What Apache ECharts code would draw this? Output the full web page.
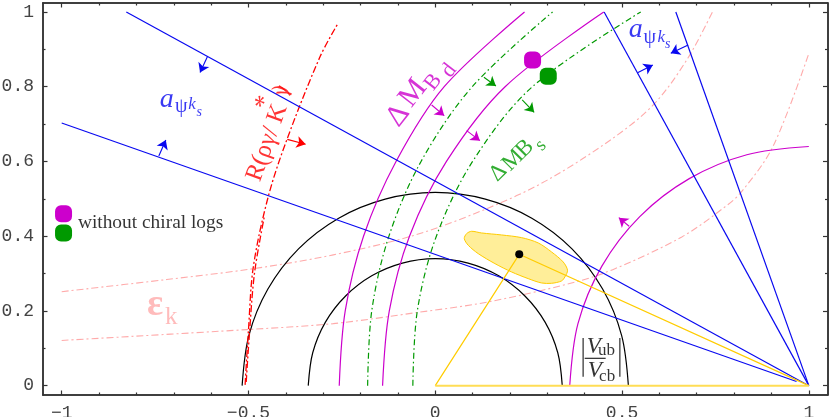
<!DOCTYPE html>
<html>
<head>
<meta charset="utf-8">
<title>Unitarity triangle</title>
<script src="https://cdn.jsdelivr.net/npm/echarts@6/dist/echarts.min.js"></script>
<style>html,body{margin:0;padding:0;background:#fff}#main{width:830px;height:417px}</style>
</head>
<body>
<div id="main"></div>
<script>
// tick positions
var xMajorTicks = [-1, -0.5, 0, 0.5, 1];
var xMinorTicks = [-0.9, -0.8, -0.7, -0.6, -0.4, -0.3, -0.2, -0.1, 0.1, 0.2, 0.3, 0.4, 0.6, 0.7, 0.8, 0.9];
var yMajorTicks = [0, 0.2, 0.4, 0.6, 0.8, 1];
var yMinorTicks = [0.1, 0.3, 0.5, 0.7, 0.9];

// curves
var blueUpperLeft = [[-0.827, 1], [1, 0]];
var blueLowerLeft = [[-1, 0.703], [0.967, 0.011]];
var blueInnerRight = [[0.452, 1], [1, 0]];
var blueOuterRight = [[0.644, 1], [1, 0]];
var magentaOuter = [[-0.257, 0], [-0.241, 0.2], [-0.192, 0.4], [-0.105, 0.6], [0.024, 0.8], [0.239, 1]];
var magentaInner = [[-0.141, 0], [-0.123, 0.2], [-0.069, 0.4], [0.03, 0.6], [0.187, 0.8], [0.451, 1]];
var magentaRight = [[0.36, 0], [0.382, 0.166], [0.446, 0.32], [0.5475, 0.4525], [0.68, 0.554], [0.834, 0.618], [1, 0.64]];
var greenOuter = [[-0.181, 0], [-0.17, 0.2], [-0.124, 0.4], [-0.038, 0.6], [0.099, 0.8], [0.314, 1]];
var greenInner = [[-0.06, 0], [-0.048, 0.2], [0.003, 0.4], [0.1, 0.6], [0.26, 0.8], [0.55, 1]];
var redMain = [[-0.509, 0.002], [-0.5, 0.149], [-0.487, 0.318], [-0.447, 0.506], [-0.3975, 0.6575], [-0.3085, 0.88], [-0.26, 0.97]];
var redShort = [[-0.506, 0.01], [-0.498, 0.13], [-0.484, 0.3], [-0.458, 0.45]];
var pinkUpper = [[-1, 0.2515], [-0.719, 0.284], [-0.487, 0.313], [-0.273, 0.35], [-0.054, 0.403], [0.141, 0.475], [0.3, 0.55], [0.481, 0.666], [0.588, 0.756], [0.676, 0.876], [0.742, 1]];
var pinkLower = [[-1, 0.121], [-0.505, 0.15], [-0.273, 0.166], [-0.054, 0.195], [0.141, 0.224], [0.374, 0.277], [0.481, 0.313], [0.66, 0.398], [0.775, 0.478], [0.82, 0.519], [0.904, 0.64], [1, 0.889]];
var circleOuter = [[0.517, 0], [0.499, 0.134], [0.448, 0.2585], [0.366, 0.366], [0.2585, 0.448], [0.134, 0.499], [0, 0.517], [-0.134, 0.499], [-0.2585, 0.448], [-0.366, 0.366], [-0.448, 0.2585], [-0.499, 0.134], [-0.517, 0]];
var circleInner = [[0.34, 0], [0.328, 0.088], [0.294, 0.17], [0.24, 0.24], [0.17, 0.294], [0.088, 0.328], [0, 0.34], [-0.088, 0.328], [-0.17, 0.294], [-0.24, 0.24], [-0.294, 0.17], [-0.328, 0.088], [-0.34, 0]];
var triangleLegs = [[0, 0], [0.2248, 0.3515], [1, 0]];
var triangleBase = [[0, 0], [1, 0]];
var fitRegion = [[0.0777, 0.3935], [0.0839, 0.4068], [0.0973, 0.4131], [0.124, 0.4086], [0.1775, 0.4033], [0.2311, 0.3961], [0.2757, 0.3819], [0.3113, 0.3578], [0.3425, 0.331], [0.3541, 0.3087], [0.347, 0.2909], [0.3381, 0.2802], [0.3113, 0.2739], [0.2845, 0.2748], [0.2489, 0.2864], [0.2043, 0.3043], [0.1597, 0.3266], [0.1151, 0.3533], [0.0884, 0.3756]];
var fitPoint = [[0.2248, 0.3515]];
var magentaPoints = [[0.2605, 0.8715], [-0.995, 0.46]];
var greenPoints = [[0.3025, 0.828], [-0.995, 0.4087]];
var fractionBar = [[0.4, 0.0733], [0.4562, 0.0733]];
var fractionLeft = [[0.3959, 0.1278], [0.3959, 0.0241]];
var fractionRight = [[0.4941, 0.1278], [0.4941, 0.0241]];

// arrows: from, to
var blueArrows = [
    [[-0.61, 0.88], [-0.6296, 0.838]],
    [[-0.74, 0.6147], [-0.7213, 0.6575]],
    [[0.5415, 0.8376], [0.5824, 0.858]],
    [[0.677, 0.9117], [0.6305, 0.8895]]
];
var redArrows = [[[-0.396, 0.659], [-0.347, 0.646]]];
var greenArrows = [
    [[0.1303, 0.8253], [0.1624, 0.802]],
    [[0.2328, 0.7645], [0.2648, 0.7316]]
];
var magentaArrows = [
    [[-0.0096, 0.7511], [0.0241, 0.7225]],
    [[0.084, 0.6824], [0.1196, 0.6556]],
    [[0.519, 0.4265], [0.4914, 0.4496]]
];

var BLUE = '#0808f0', MAGENTA = '#cc00cc', GREEN = '#009900', RED = '#ff0000', PINK = '#ffaaaa', YELLOW = '#ffcc00';
var SERIF = '"Liberation Serif", serif';
var BLOB = 'path://M3.5,0 H6.5 A3.5,3.5 0 0 1 10,3.5 V6.5 A3.5,3.5 0 0 1 6.5,10 H3.5 A3.5,3.5 0 0 1 0,6.5 V3.5 A3.5,3.5 0 0 1 3.5,0 Z';

function curve(points, color, width, dash) {
    return {
        type: 'line', data: points, smooth: 0.33, symbol: 'none', silent: true,
        lineStyle: { color: color, width: width, type: dash || 'solid' }
    };
}

function straight(points, color, width) {
    var s = curve(points, color, width);
    s.smooth = false;
    return s;
}

function arrows(list, color) {
    return {
        type: 'line', data: [], symbol: 'none', silent: true,
        markLine: {
            silent: true, animation: false, symbol: ['none', 'arrow'], symbolSize: 9,
            label: { show: false },
            lineStyle: { color: color, width: 1.1, type: 'solid' },
            data: list.map(function (a) {
                return [{ coord: a[0] }, { coord: a[1] }];
            })
        }
    };
}

function dots(points, color, symbol, size) {
    return {
        type: 'scatter', data: points, symbol: symbol, symbolSize: size, silent: true,
        itemStyle: { color: color, opacity: 1 }, z: 5
    };
}

function text(str, x, y, size, color, rotate, italic, weight) {
    return {
        type: 'scatter', data: [[x, y]], symbolSize: 0.01, silent: true, z: 6,
        itemStyle: { color: 'transparent' },
        label: {
            show: true, position: 'inside', formatter: str, rotate: rotate || 0,
            align: 'center', verticalAlign: 'middle',
            fontFamily: SERIF, fontSize: size, color: color,
            fontStyle: italic ? 'italic' : 'normal', fontWeight: weight || 'normal'
        }
    };
}

function tickLabel(v) {
    return String(v).replace('-', '\u2212');
}

function makeAxis(position, gridIndex, min, max, ticks, len, labels) {
    return {
        type: 'value', position: position, gridIndex: gridIndex, min: min, max: max,
        axisLine: { show: true, onZero: false, lineStyle: { color: '#333', width: 1.5 } },
        splitLine: { show: false },
        axisTick: { show: true, inside: true, length: len, customValues: ticks, lineStyle: { color: '#333', width: 1.2 } },
        axisLabel: {
            show: labels, customValues: ticks, formatter: tickLabel, margin: 9,
            fontFamily: '"Liberation Mono", monospace', fontSize: 18, color: '#444'
        }
    };
}

var X0 = -1.05, X1 = 1.05, Y0 = -0.025, Y1 = 1.024;
var gridBox = { left: 43, top: 3, right: 2.5, bottom: 22, outerBoundsMode: 'none' };

var series = [
    {
        type: 'custom', data: fitRegion, silent: true, z: 1,
        encode: { x: 0, y: 1 },
        renderItem: function (params, api) {
            if (params.dataIndex !== 0) return null;
            return {
                type: 'polygon',
                shape: { points: fitRegion.map(function (p) { return api.coord(p); }), smooth: 0.3 },
                style: { fill: '#ffee99', stroke: YELLOW, lineWidth: 1 }
            };
        }
    },
    curve(pinkUpper, PINK, 1.1, [7, 3, 2, 3]),
    curve(pinkLower, PINK, 1.1, [7, 3, 2, 3]),
    curve(circleOuter, '#000', 1.2),
    curve(circleInner, '#000', 1.2),
    curve(magentaOuter, MAGENTA, 1.2),
    curve(magentaInner, MAGENTA, 1.2),
    curve(magentaRight, MAGENTA, 1.2),
    curve(greenOuter, GREEN, 1.2, [6, 3, 1.5, 3]),
    curve(greenInner, GREEN, 1.2, [6, 3, 1.5, 3]),
    curve(redMain, RED, 1.3, [7, 2.5, 2, 2.5]),
    curve(redShort, RED, 1.3, [7, 2.5, 2, 2.5]),
    straight(blueUpperLeft, BLUE, 1.2),
    straight(blueLowerLeft, BLUE, 1.2),
    straight(blueInnerRight, BLUE, 1.2),
    straight(blueOuterRight, BLUE, 1.2),
    straight(triangleLegs, YELLOW, 1.2),
    straight(triangleBase, '#ffdd55', 2),
    straight(fractionBar, '#000', 1),
    straight(fractionLeft, '#555', 1.5),
    straight(fractionRight, '#555', 1.5),
    arrows(blueArrows, BLUE),
    arrows(redArrows, RED),
    arrows(greenArrows, GREEN),
    arrows(magentaArrows, MAGENTA),
    dots(fitPoint, '#000', 'circle', 8),
    dots(magentaPoints, MAGENTA, BLOB, 17),
    dots(greenPoints, GREEN, BLOB, 17),

    text('a', -0.719, 0.7645, 28, BLUE, 0, true),
    text('\u03c8', -0.68, 0.7458, 20, BLUE),
    text('k', -0.651, 0.7511, 17, BLUE, 0, true),
    text('s', -0.632, 0.7324, 14, BLUE, 0, true),
    text('a', 0.537, 0.952, 28, BLUE, 0, true),
    text('\u03c8', 0.574, 0.93, 20, BLUE),
    text('k', 0.605, 0.932, 17, BLUE, 0, true),
    text('s', 0.622, 0.913, 14, BLUE, 0, true),

    text('R(\u03c1\u03b3/ K', -0.45, 0.65, 25, RED, 70),
    text('*', -0.456, 0.7565, 26, RED, 70),
    text(')', -0.413, 0.792, 22, RED, 70),
    text('\u03b3', -0.411, 0.789, 22, RED, 70),

    text('\u0394', -0.099, 0.7225, 30, MAGENTA, 52),
    text('M', -0.0589, 0.7825, 30, MAGENTA, 52),
    text('B', -0.0054, 0.8119, 22, MAGENTA, 52),
    text('d', 0.0367, 0.8429, 22, MAGENTA, 52),

    text('\u0394', 0.1685, 0.57, 23, GREEN, 45),
    text('M', 0.2087, 0.6031, 23, GREEN, 45),
    text('B', 0.24, 0.6342, 23, GREEN, 45),
    text('s', 0.2828, 0.6433, 19, GREEN, 45),

    text('\u03b5', -0.75, 0.2159, 38, PINK, 0, false, 'bold'),
    text('k', -0.707, 0.1838, 25, PINK),

    text('without chiral logs', -0.762, 0.4353, 19.4, '#000'),

    text('V', 0.4246, 0.1044, 23, '#000', 0, true),
    text('ub', 0.4585, 0.0936, 17, '#000'),
    text('V', 0.4273, 0.0401, 23, '#000', 0, true),
    text('cb', 0.4601, 0.0241, 17, '#000')
];

var chart = echarts.init(document.getElementById('main'));
chart.setOption({
    animation: false,
    backgroundColor: '#fff',
    grid: [gridBox, gridBox],
    xAxis: [
        makeAxis('bottom', 0, X0, X1, xMajorTicks, 4.5, true),
        makeAxis('top', 0, X0, X1, xMajorTicks, 4.5, false),
        makeAxis('bottom', 1, X0, X1, xMinorTicks, 2.5, false),
        makeAxis('top', 1, X0, X1, xMinorTicks, 2.5, false)
    ],
    yAxis: [
        makeAxis('left', 0, Y0, Y1, yMajorTicks, 4.5, true),
        makeAxis('right', 0, Y0, Y1, yMajorTicks, 4.5, false),
        makeAxis('left', 1, Y0, Y1, yMinorTicks, 2.5, false),
        makeAxis('right', 1, Y0, Y1, yMinorTicks, 2.5, false)
    ],
    series: series
});
</script>
</body>
</html>
